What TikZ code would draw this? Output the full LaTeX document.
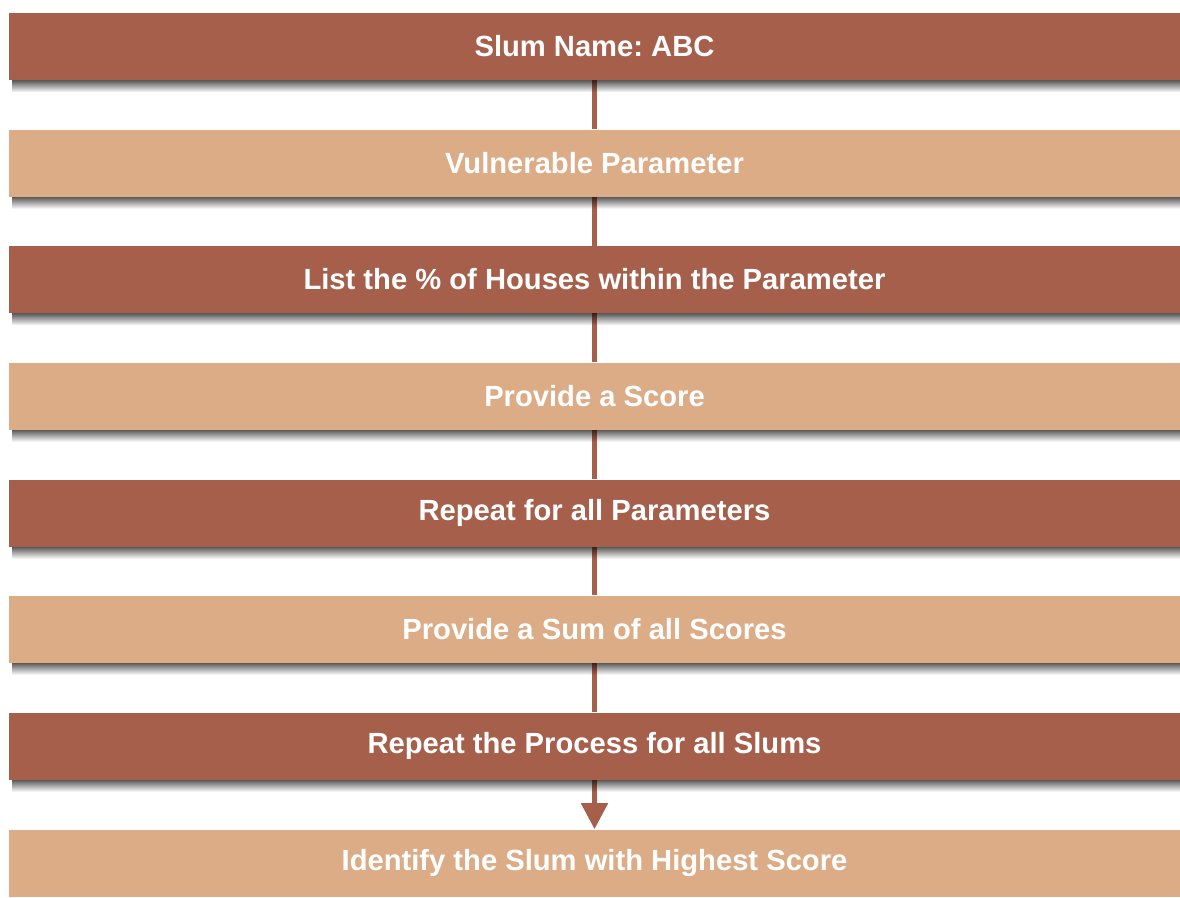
\documentclass[tikz,border=0pt]{standalone}
\usepackage{fontspec}
\setmainfont{Liberation Sans}
\frenchspacing
\usetikzlibrary{arrows.meta,fadings}

\definecolor{rust}{HTML}{A65F4B}
\definecolor{sand}{HTML}{DCAC87}

\tikzset{
  darkbox/.style={fill=rust, minimum width=23.42cm, minimum height=1.34cm,
    inner sep=0pt, text=white, font=\fontsize{16.6}{20}\selectfont\bfseries},
  lightbox/.style={darkbox, fill=sand},
  link/.style={draw=rust, line width=0.1cm},
}

% drop shadow under a box
\def\boxshadow#1{\fill[black, opacity=0.65, path fading=south]
  ([xshift=0.08cm]#1.south west) rectangle ([yshift=-0.24cm]#1.south east);}

\begin{document}
\begin{tikzpicture}
    \useasboundingbox (0,0) rectangle (23.6,-17.94);
    \begin{scope}
    \clip (0,0) rectangle (23.6,-17.94);

    \node[darkbox]  (name)    at (11.89,-0.93)  {Slum Name: ABC};
    \node[lightbox] (param)   at (11.89,-3.26)  {Vulnerable Parameter};
    \node[darkbox]  (list)    at (11.89,-5.59)  {List the \% of Houses within the Parameter};
    \node[lightbox] (score)   at (11.89,-7.92)  {Provide a Score};
    \node[darkbox]  (repeat)  at (11.89,-10.26) {Repeat for all Parameters};
    \node[lightbox] (sum)     at (11.89,-12.58) {Provide a Sum of all Scores};
    \node[darkbox]  (process) at (11.89,-14.92) {Repeat the Process for all Slums};
    \node[lightbox] (highest) at (11.89,-17.26) {Identify the Slum with Highest Score};

    \draw[link] (name) -- (param);
    \draw[link] (param) -- (list);
    \draw[link] (list) -- (score);
    \draw[link] (score) -- (repeat);
    \draw[link] (repeat) -- (sum);
    \draw[link] (sum) -- (process);
    \draw[link, -{Triangle[width=0.52cm,length=0.52cm]}] (process) -- (highest);

    \boxshadow{name}
    \boxshadow{param}
    \boxshadow{list}
    \boxshadow{score}
    \boxshadow{repeat}
    \boxshadow{sum}
    \boxshadow{process}
    \end{scope}
\end{tikzpicture}
\end{document}
